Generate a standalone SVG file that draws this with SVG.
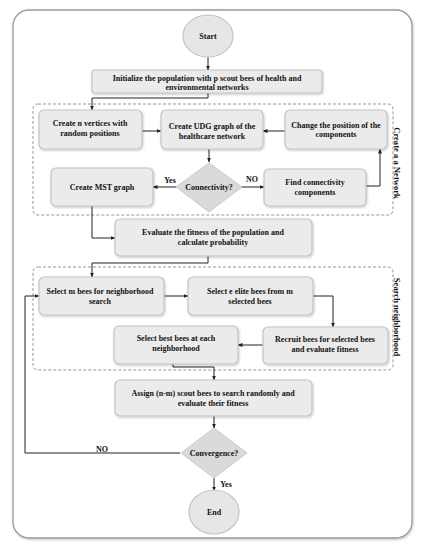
<svg xmlns="http://www.w3.org/2000/svg" width="423" height="550" viewBox="0 0 423 550">
<defs>
<marker id="ah" viewBox="0 0 10 10" refX="9" refY="5" markerWidth="5" markerHeight="5" orient="auto">
<path d="M0,1 L10,5 L0,9 z" fill="#222"/>
</marker>
<filter id="sh" x="-10%" y="-10%" width="120%" height="130%">
<feDropShadow dx="0.8" dy="1.2" stdDeviation="0.8" flood-color="#000" flood-opacity="0.22"/>
</filter>
</defs>
<style>
.box{fill:#ebebeb;stroke:#c4c4c4;stroke-width:1.2;filter:url(#sh)}
.term{fill:#e6e6e6;stroke:#c4c4c4;stroke-width:1.2}
.dec{fill:#dadada;stroke:#cacaca;stroke-width:1}
.grp{fill:none;stroke:#8a8a8a;stroke-width:0.9;stroke-dasharray:3,2}
.t{font-family:"Liberation Serif",serif;font-weight:bold;font-size:8px;fill:#111;text-anchor:middle}
.lab{font-family:"Liberation Serif",serif;font-weight:bold;font-size:8px;fill:#111;text-anchor:middle}
.side{font-family:"Liberation Serif",serif;font-weight:bold;font-size:8.6px;fill:#111;text-anchor:middle}
.c{fill:none;stroke:#222;stroke-width:1}
</style>
<rect x="13" y="10" width="399" height="528" rx="16" fill="#fff" stroke="#9a9a9a" stroke-width="1.3" filter="url(#sh)"/>

<g id="group-network">
<rect class="grp" x="33" y="104" width="360" height="111" rx="5"/>
<text class="side" transform="translate(396,163) rotate(90)" dominant-baseline="middle">Create a a Network</text>
</g>
<g id="group-search">
<rect class="grp" x="33" y="267" width="360" height="103" rx="5"/>
<text class="side" transform="translate(396,317) rotate(90)" dominant-baseline="middle">Search neighborhood</text>
</g>

<g id="connectors">
<path class="c" d="M208,56 V70" marker-end="url(#ah)"/>
<path class="c" d="M208,93 V98 H92 V110" marker-end="url(#ah)"/>
<path class="c" d="M142,131 H161" marker-end="url(#ah)"/>
<path class="c" d="M285,131 H263" marker-end="url(#ah)"/>
<path class="c" d="M209,149 V162" marker-end="url(#ah)"/>
<path class="c" d="M176,187 H153" marker-end="url(#ah)"/>
<path class="c" d="M242,187 H264" marker-end="url(#ah)"/>
<path class="c" d="M366,186 H380 V149" marker-end="url(#ah)"/>
<path class="c" d="M92,206 V238 H115" marker-end="url(#ah)"/>
<path class="c" d="M208,256 V263 H92 V277" marker-end="url(#ah)"/>
<path class="c" d="M164,296 H188" marker-end="url(#ah)"/>
<path class="c" d="M313,296 H333 V327" marker-end="url(#ah)"/>
<path class="c" d="M263,345 H238" marker-end="url(#ah)"/>
<path class="c" d="M173,364 V367 H214 V380" marker-end="url(#ah)"/>
<path class="c" d="M214,416 V428" marker-end="url(#ah)"/>
<path class="c" d="M180,453 H25 V296 H39" marker-end="url(#ah)"/>
<path class="c" d="M214,478 V491" marker-end="url(#ah)"/>
<text class="lab" x="170" y="183">Yes</text>
<text class="lab" x="252" y="182">NO</text>
<text class="lab" x="102" y="452">NO</text>
<text class="lab" x="226" y="487">Yes</text>
</g>

<g id="start">
<ellipse class="term" cx="208" cy="36" rx="25" ry="21"/>
<text class="t" x="208" y="39">Start</text>
</g>
<g id="init">
<rect class="box" x="92" y="70" width="230" height="23" rx="3"/>
<text class="t" x="207" y="81">Initialize the population with p scout bees of health and</text>
<text class="t" x="207" y="90">environmental networks</text>
</g>
<g id="create-vertices">
<rect class="box" x="39" y="110" width="103" height="39" rx="5"/>
<text class="t" x="90" y="126">Create n vertices with</text>
<text class="t" x="90" y="135.5">random positions</text>
</g>
<g id="create-udg">
<rect class="box" x="161" y="110" width="102" height="39" rx="5"/>
<text class="t" x="212" y="129">Create UDG graph of the</text>
<text class="t" x="212" y="138.5">healthcare network</text>
</g>
<g id="change-position">
<rect class="box" x="285" y="110" width="102" height="39" rx="5"/>
<text class="t" x="336" y="127.5">Change the position of the</text>
<text class="t" x="336" y="137">components</text>
</g>
<g id="connectivity">
<polygon class="dec" points="209,163 242,187 209,212 176,187"/>
<text class="t" x="209" y="190">Connectivity?</text>
</g>
<g id="create-mst">
<rect class="box" x="51" y="168" width="102" height="38" rx="5"/>
<text class="t" x="102" y="190">Create MST graph</text>
</g>
<g id="find-components">
<rect class="box" x="264" y="169" width="102" height="37" rx="5"/>
<text class="t" x="315" y="185">Find connectivity</text>
<text class="t" x="315" y="194.5">components</text>
</g>
<g id="evaluate">
<rect class="box" x="115" y="219" width="197" height="37" rx="5"/>
<text class="t" x="213" y="235">Evaluate the fitness of the population and</text>
<text class="t" x="213" y="244.5">calculate probability</text>
</g>
<g id="select-m">
<rect class="box" x="39" y="277" width="125" height="38" rx="5"/>
<text class="t" x="100" y="294">Select m bees for neighborhood</text>
<text class="t" x="100" y="303.5">search</text>
</g>
<g id="select-e">
<rect class="box" x="188" y="277" width="125" height="38" rx="5"/>
<text class="t" x="250" y="294">Select e elite bees from m</text>
<text class="t" x="250" y="303.5">selected bees</text>
</g>
<g id="recruit">
<rect class="box" x="263" y="327" width="125" height="37" rx="5"/>
<text class="t" x="325" y="342">Recruit bees for selected bees</text>
<text class="t" x="325" y="351.5">and evaluate fitness</text>
</g>
<g id="select-best">
<rect class="box" x="114" y="326" width="124" height="38" rx="5"/>
<text class="t" x="176" y="341">Select best bees at each</text>
<text class="t" x="176" y="350.5">neighborhood</text>
</g>
<g id="assign">
<rect class="box" x="115" y="380" width="197" height="36" rx="5"/>
<text class="t" x="213" y="396">Assign (n-m) scout bees to search randomly and</text>
<text class="t" x="213" y="405.5">evaluate their fitness</text>
</g>
<g id="convergence">
<polygon class="dec" points="214,428 247,453 214,478 181,453"/>
<text class="t" x="214" y="456">Convergence?</text>
</g>
<g id="end">
<ellipse class="term" cx="214" cy="512" rx="25" ry="22"/>
<text class="t" x="214" y="515">End</text>
</g>
</svg>
